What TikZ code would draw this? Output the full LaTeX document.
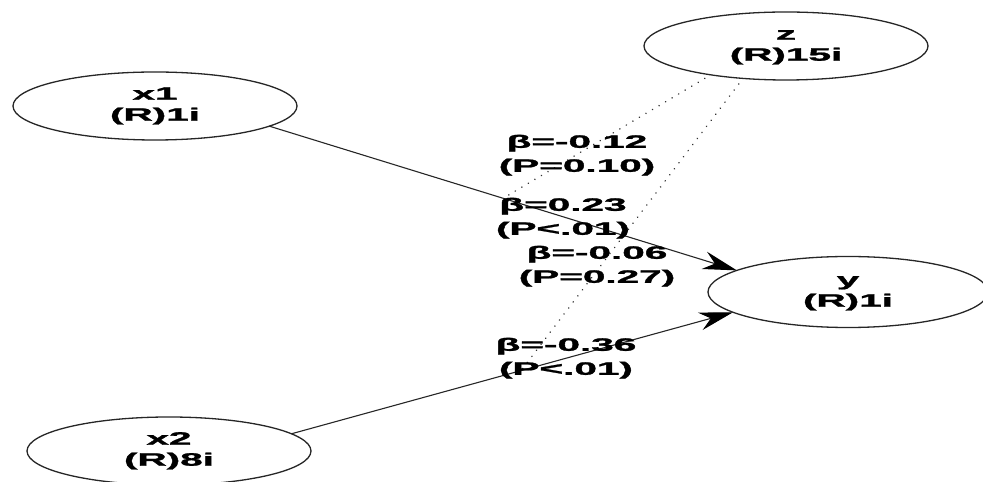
\documentclass[tikz,border=0pt]{standalone}
\usepackage{fontspec}
\setmainfont{Liberation Sans}[BoldFeatures={FakeBold=1.2}]
\usepackage{graphicx}
\usetikzlibrary{shapes.geometric,arrows.meta}

% wide bold lettering used throughout the model
\newcommand\widetxt[1]{\scalebox{2.25}[1]{\begin{tabular}{@{}c@{}}#1\end{tabular}}}

\begin{document}
\begin{tikzpicture}[x=1pt,y=1pt,
  latent/.style={ellipse, draw=black!85, line width=1.3pt, fill=white,
    minimum width=284pt, minimum height=68pt, inner sep=0pt, outer sep=0pt,
    font=\fontsize{18}{21}\selectfont\bfseries},
  coef/.style={inner sep=0pt, font=\fontsize{18}{24}\selectfont\bfseries},
  path/.style={draw=black!85, line width=1.1pt,
    -{Stealth[length=34pt,width=18pt,inset=11pt,color=black]}},
  moder/.style={draw=black!80, line width=1.6pt, line cap=round,
    dash pattern=on 0.1pt off 7.5pt, shorten <=7pt}]

\useasboundingbox (0,0) rectangle (983,482);
\clip (0,0) rectangle (983,482);

% latent variables
\node[latent] (x1) at (155,376) {\widetxt{x1\\(R)1i}};
\node[latent] (z)  at (786,436) {\widetxt{z\\(R)15i}};
\node[latent, minimum width=280pt, minimum height=71pt] (y) at (848,190) {\widetxt{y\\(R)1i}};
\node[latent] (x2) at (169,31) {\widetxt{x2\\(R)8i}};

% direct paths
\draw[path] (x1.-10.3) -- (y.169) coordinate[pos=0.5] (m1);
\draw[path] (x2.8.8) -- (y.-170.4) coordinate[pos=0.52] (m2);

% moderating effects of z
\draw[moder] (z.-159) -- (m1);
\draw[moder] (z.-143) -- (m2);

% path coefficients
\node[coef] (c1) at (577,327) {\widetxt{β=-0.12\\(P=0.10)}};
\node[coef] (c2) at (563,264) {\widetxt{β=0.23\\(P<.01)}};
\node[coef] (c3) at (597,216) {\widetxt{β=-0.06\\(P=0.27)}};
\node[coef] (c4) at (566,124) {\widetxt{β=-0.36\\(P<.01)}};
\end{tikzpicture}
\end{document}
